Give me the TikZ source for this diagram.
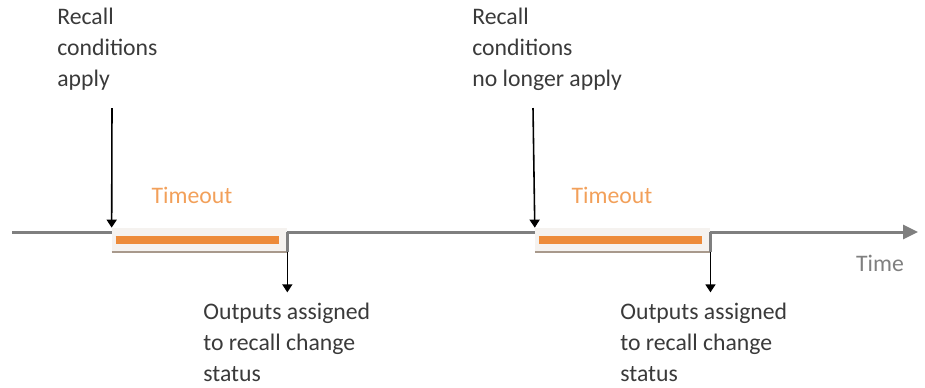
\documentclass[tikz,border=0pt]{standalone}
\usepackage{fontspec}
\setmainfont{Carlito}
\usetikzlibrary{arrows.meta,positioning}
\definecolor{axisgray}{HTML}{7F7F7F}
\definecolor{baro}{HTML}{ED8B3A}
\definecolor{tmoorange}{HTML}{F2A05A}
\definecolor{txtgray}{HTML}{3A3A3A}
\definecolor{boxfill}{HTML}{F5F2EF}
\definecolor{boxline}{HTML}{A8998C}

\begin{document}
\begin{tikzpicture}[x=0.02cm,y=0.02cm,
  lbl/.style={anchor=north west,align=left,inner sep=0pt,text=txtgray,font=\fontsize{13.5}{17.6}\selectfont},
  tmo/.style={text=tmoorange,font=\fontsize{13.5}{16}\selectfont},
  tbox/.style={fill=boxfill,inner sep=0pt,minimum width=3.5cm,minimum height=0.48cm},
  evt/.style={-{Triangle[length=1.6mm,width=2mm]},line width=0.9pt,black},
  axis/.style={line width=1.7pt,axisgray}]
\useasboundingbox (0,0) rectangle (925,-387);
% timeout boxes
\node[tbox] (box1) at (199.5,-240) {};
\node[tbox,right=4.95cm of box1] (box2) {};
\draw[line width=4.5pt,baro] ([xshift=0.08cm]box1.west) -- ([xshift=-0.16cm]box1.east);
\draw[line width=4.5pt,baro] ([xshift=0.08cm]box2.west) -- ([xshift=-0.16cm]box2.east);
\draw[line width=1.2pt,boxline] (box1.south west) -- (box1.south east);
\draw[line width=1.2pt,boxline] (box2.south west) -- (box2.south east);
% time axis
\coordinate (t0) at (12,-232);
\coordinate (tend) at (918,-232);
\draw[axis] (t0) -- (box1.west |- t0);
\draw[axis] (box1.east |- t0) -- (box1.south east);
\draw[axis] (box1.east |- t0) -- (box2.west |- t0);
\draw[axis] (box2.east |- t0) -- (box2.south east);
\draw[axis,-{Triangle[length=3mm,width=2.8mm]}] (box2.east |- t0) -- (tend);
\node[text=axisgray,font=\fontsize{13.5}{16}\selectfont] (time) at (880,-263) {Time};
% labels
\node[tmo] (tmo1) at (192,-195) {Timeout};
\node[tmo] (tmo2) at (612,-195) {Timeout};
\node[lbl] (on) at (57,-8) {Recall\\conditions\\apply};
\node[lbl] (off) at (472,-8) {Recall\\conditions\\no longer apply};
\node[lbl] (out1) at (203,-303) {Outputs assigned\\to recall change\\status};
\node[lbl] (out2) at (620,-303) {Outputs assigned\\to recall change\\status};
% events
\coordinate (on1) at (112,-108);
\coordinate (off1) at (533,-108);
\draw[evt] (on1) -- (box1.north west);
\draw[evt] (off1) -- (box2.north west);
\draw[evt] (box1.south east) -- ++(0,-40);
\draw[evt] (box2.south east) -- ++(0,-40);
\end{tikzpicture}
\end{document}
